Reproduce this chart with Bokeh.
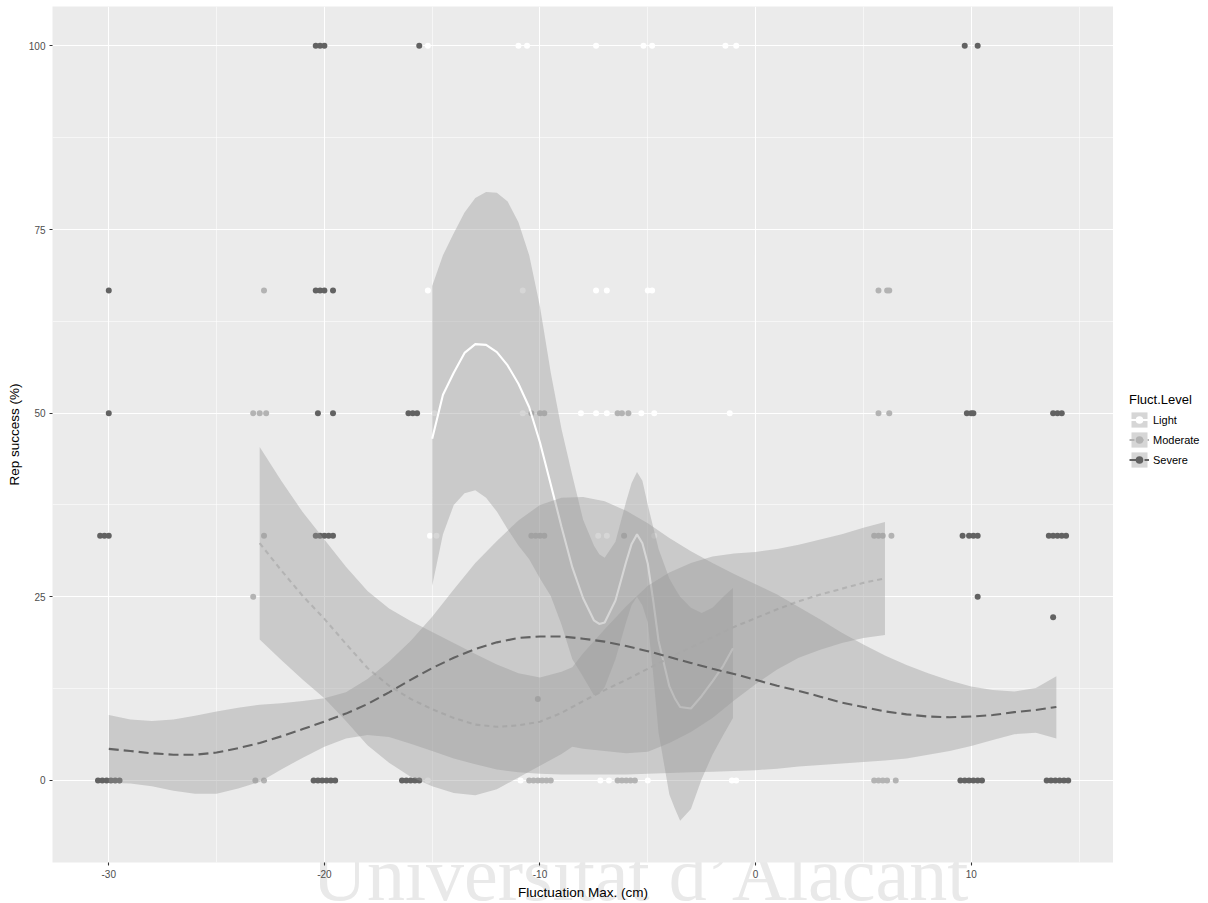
from bokeh.plotting import figure
from bokeh.layouts import row, column
from bokeh.models import Range1d, FixedTicker, Legend, LegendItem, Div
from bokeh.embed import file_html
from bokeh.resources import INLINE

# ---------------- observations (jittered along x) ----------------
light_x = [-15.2, -11.0, -10.6, -7.4, -5.2, -4.8, -1.4, -0.9,
           -15.2, -10.8, -7.4, -6.9, -5.0, -4.8,
           -14.9, -10.8, -8.1, -7.4, -6.9, -5.3, -4.7, -1.2,
           -15.1, -14.8, -7.3, -6.9, -4.7,
           -15.2, -10.9, -7.2, -6.8, -5.0, -1.1, -0.9]
light_y = [100, 100, 100, 100, 100, 100, 100, 100,
           66.7, 66.7, 66.7, 66.7, 66.7, 66.7,
           50, 50, 50, 50, 50, 50, 50, 50,
           33.3, 33.3, 33.3, 33.3, 33.3,
           0, 0, 0, 0, 0, 0, 0]

moderate_x = [-23.2, -22.8, -10.5, -10.3, -10.1, -9.9, -9.7, -9.5, -6.4, -6.2, -6.0, -5.8, -5.6,
              5.5, 5.7, 5.9, 6.1, 6.5,
              -23.3,
              -22.8, -10.4, -10.2, -10.0, -9.8, -6.1, 5.5, 5.7, 5.9, 6.3,
              -23.3, -23.0, -22.7, -10.4, -10.0, -9.8, -6.4, -6.2, -5.9, 5.7, 6.2,
              -22.8, 5.7, 6.1, 6.2,
              -10.1]
moderate_y = [0, 0, 0, 0, 0, 0, 0, 0, 0, 0, 0, 0, 0,
              0, 0, 0, 0, 0,
              25,
              33.3, 33.3, 33.3, 33.3, 33.3, 33.3, 33.3, 33.3, 33.3, 33.3,
              50, 50, 50, 50, 50, 50, 50, 50, 50, 50, 50,
              66.7, 66.7, 66.7, 66.7,
              11.1]

severe_x = [-30.5, -30.3, -30.1, -29.9, -29.7, -29.5, -20.5, -20.3, -20.1, -19.9, -19.7, -19.5,
            -16.4, -16.2, -16.0, -15.8, -15.6, 9.5, 9.7, 9.9, 10.1, 10.3, 10.5,
            13.5, 13.7, 13.9, 14.1, 14.3, 14.5,
            -30.4, -30.2, -30.0, -20.4, -20.2, -20.0, -19.8, -19.6, 9.6, 9.9, 10.1, 10.3,
            13.6, 13.8, 14.0, 14.2, 14.4,
            -30.0, -20.3, -19.6, -16.1, -15.9, -15.7, 9.8, 10.0, 10.1, 13.8, 14.0, 14.2,
            -30.0, -20.4, -20.2, -20.0, -19.6,
            -20.4, -20.2, -20.0, -15.6, 9.7, 10.3,
            10.3, 13.8]
severe_y = [0, 0, 0, 0, 0, 0, 0, 0, 0, 0, 0, 0,
            0, 0, 0, 0, 0, 0, 0, 0, 0, 0, 0,
            0, 0, 0, 0, 0, 0,
            33.3, 33.3, 33.3, 33.3, 33.3, 33.3, 33.3, 33.3, 33.3, 33.3, 33.3, 33.3,
            33.3, 33.3, 33.3, 33.3, 33.3,
            50, 50, 50, 50, 50, 50, 50, 50, 50, 50, 50, 50,
            66.7, 66.7, 66.7, 66.7, 66.7,
            100, 100, 100, 100, 100, 100,
            25, 22.2]

# ---------------- loess fits with confidence band ----------------
light_sx = [-15.0, -14.5, -14.0, -13.5, -13.0, -12.5, -12.0, -11.5, -11.0, -10.5,
            -10.0, -9.5, -9.0, -8.5, -8.0, -7.5, -7.25, -7.0, -6.5, -6.0,
            -5.75, -5.5, -5.25, -5.0, -4.75, -4.5, -4.0, -3.75, -3.5, -3.0,
            -2.5, -2.0, -1.5, -1.05]
light_fit = [46.5, 52.5, 55.5, 58.2, 59.4, 59.3, 58.3, 56.5, 54.0, 50.8,
             46.0, 40.3, 34.5, 29.0, 24.8, 21.8, 21.3, 21.5, 24.5, 29.8,
             32.2, 33.5, 32.3, 29.5, 24.5, 19.0, 12.8, 11.2, 10.0, 9.8,
             11.5, 13.5, 15.6, 18.0]
light_hi = [67.3, 71.5, 74.5, 77.3, 79.3, 80.1, 80.0, 78.8, 76.0, 71.5,
            64.5, 55.5, 47.8, 41.5, 35.5, 32.0, 30.8, 30.3, 32.5, 38.0,
            40.5, 42.0, 40.8, 37.5, 34.5, 31.5, 27.5, 26.2, 25.0, 23.5,
            22.8, 23.5, 25.0, 26.2]
light_lo = [26.5, 33.5, 37.5, 39.1, 39.5, 38.5, 36.6, 34.2, 32.0, 30.1,
            27.5, 25.1, 21.2, 16.5, 14.1, 11.6, 11.8, 12.7, 16.5, 21.6,
            23.9, 25.0, 23.8, 21.5, 14.5, 6.5, -1.9, -3.8, -5.5, -3.9,
            0.2, 3.5, 6.2, 8.5]

moderate_sx = [-23, -22, -21, -20, -19, -18, -17, -16, -15, -14,
               -13, -12, -11, -10, -9, -8.5, -8, -7, -6, -5,
               -4, -3, -2, -1, 0, 1, 2, 3, 4, 5, 6]
moderate_fit = [32.3, 28.6, 25.1, 22.0, 18.6, 15.3, 12.9, 11.1, 9.7, 8.5,
                7.6, 7.3, 7.5, 8.0, 9.2, 10.0, 10.8, 12.3, 13.7, 15.2,
                16.7, 18.1, 19.5, 20.9, 22.1, 23.3, 24.4, 25.3, 26.1, 26.9, 27.5]
moderate_hi = [45.4, 40.8, 36.5, 32.8, 29.1, 25.8, 23.4, 21.7, 20.2, 18.7,
               17.2, 15.8, 14.6, 14.0, 14.8, 15.4, 17.3, 20.6, 23.7, 26.5,
               28.3, 29.6, 30.5, 30.9, 31.1, 31.5, 32.1, 32.8, 33.5, 34.4, 35.2]
moderate_lo = [19.2, 16.4, 13.7, 11.2, 8.1, 4.8, 2.4, 0.5, -0.8, -1.7,
               -2.0, -1.2, 0.4, 2.0, 3.6, 4.6, 4.3, 4.0, 3.7, 3.9,
               5.1, 6.6, 8.5, 10.9, 13.1, 15.1, 16.7, 17.8, 18.7, 19.4, 19.8]

severe_sx = [-30, -29, -28, -27, -26, -25, -24, -23, -22, -21,
             -20, -19, -18, -17, -16, -15, -14, -13, -12, -11,
             -10, -9, -8, -7, -6, -5, -4, -3, -2, -1,
             0, 1, 2, 3, 4, 5, 6, 7, 8, 9,
             10, 11, 12, 13, 13.95]
severe_fit = [4.3, 4.0, 3.7, 3.5, 3.5, 3.8, 4.4, 5.1, 6.0, 7.0,
              8.0, 9.1, 10.4, 12.0, 13.7, 15.3, 16.7, 17.9, 18.8, 19.4,
              19.6, 19.6, 19.3, 18.9, 18.3, 17.6, 16.8, 16.0, 15.2, 14.5,
              13.7, 12.9, 12.2, 11.4, 10.6, 10.0, 9.4, 9.0, 8.7, 8.6,
              8.7, 8.9, 9.3, 9.6, 10.0]
severe_hi = [8.9, 8.3, 8.1, 8.3, 8.8, 9.4, 9.9, 10.3, 10.5, 10.8,
             11.2, 12.0, 13.8, 16.2, 19.0, 22.3, 26.0, 29.6, 32.6, 35.4,
             37.5, 38.5, 38.6, 38.0, 36.7, 35.0, 33.0, 31.2, 29.6, 28.1,
             26.7, 25.3, 23.6, 21.9, 20.1, 18.5, 17.0, 15.7, 14.6, 13.6,
             12.8, 12.3, 12.1, 12.6, 14.2]
severe_lo = [-0.3, -0.4, -0.8, -1.4, -1.8, -1.8, -1.1, -0.2, 1.5, 3.1,
             4.6, 5.7, 6.2, 5.9, 5.0, 4.0, 3.0, 2.2, 1.5, 1.1,
             0.9, 0.8, 0.8, 0.8, 0.8, 0.9, 1.0, 1.1, 1.2, 1.3,
             1.4, 1.6, 1.9, 2.1, 2.3, 2.5, 2.7, 3.0, 3.5, 4.0,
             4.7, 5.5, 6.3, 6.5, 5.7]

levels = ["Light", "Moderate", "Severe"]
x_ticks = [-30, -20, -10, 0, 10]
x_tick_labels = ["-30", "-20", "-10", "0", "10"]
y_ticks = [0, 25, 50, 75, 100]
y_tick_labels = ["0", "25", "50", "75", "100"]

# ---------------- main panel ----------------
p = figure(width=1113, height=903, output_backend="svg", toolbar_location=None,
           x_range=Range1d(-32.61, 16.6), y_range=Range1d(-11.17, 105.36),
           min_border_left=52, min_border_right=0, min_border_top=6,
           min_border_bottom=41)
p.background_fill_color = "#ebebeb"
p.border_fill_alpha = 0          # let the page (and watermark) show around the panel
p.outline_line_color = None

p.xaxis.ticker = FixedTicker(ticks=x_ticks, minor_ticks=[-25, -15, -5, 5, 15])
p.yaxis.ticker = FixedTicker(ticks=y_ticks, minor_ticks=[12.5, 37.5, 62.5, 87.5])
p.xaxis.major_label_overrides = dict(zip(x_ticks, x_tick_labels))
p.yaxis.major_label_overrides = dict(zip(y_ticks, y_tick_labels))

for g in (p.xgrid, p.ygrid):
    g.grid_line_color = "white"
    g.grid_line_width = 1.1
    g.minor_grid_line_color = "white"
    g.minor_grid_line_width = 0.55

for ax in (p.xaxis, p.yaxis):
    ax.axis_line_color = None
    ax.major_tick_line_color = "#333333"
    ax.major_tick_line_width = 1.1
    ax.major_tick_in = 0
    ax.major_tick_out = 3
    ax.minor_tick_line_color = None
    ax.major_label_text_color = "#4d4d4d"
    ax.major_label_text_font = "Liberation Sans"
    ax.major_label_text_font_size = "10px"
    ax.major_label_standoff = 3
    ax.axis_label_text_font = "Liberation Sans"
    ax.axis_label_text_font_size = "13.5px"
    ax.axis_label_text_font_style = "normal"
    ax.axis_label_text_color = "black"
    ax.axis_label_standoff = 4

p.xaxis.axis_label = "Fluctuation Max. (cm)"
p.yaxis.axis_label = "Rep success (%)"

point_colors = {"Light": "#ffffff", "Moderate": "#b3b3b3", "Severe": "#626262"}
line_dashes = {"Light": "solid", "Moderate": "5 4", "Severe": "10 5"}

pts = {"Light": (light_x, light_y), "Moderate": (moderate_x, moderate_y),
       "Severe": (severe_x, severe_y)}
fits = {"Light": (light_sx, light_fit, light_lo, light_hi),
        "Moderate": (moderate_sx, moderate_fit, moderate_lo, moderate_hi),
        "Severe": (severe_sx, severe_fit, severe_lo, severe_hi)}

for lvl in levels:
    xs, ys = pts[lvl]
    p.scatter(xs, ys, size=6, fill_color=point_colors[lvl], line_color=None)

for lvl in levels:
    sx, fit, lo, hi = fits[lvl]
    p.varea(x=sx, y1=lo, y2=hi, fill_color="#999999", fill_alpha=0.4)
    p.line(sx, fit, line_color=point_colors[lvl], line_width=2.1,
           line_dash=line_dashes[lvl])

# ---------------- legend column ----------------
lg = figure(width=95, height=903, output_backend="svg", toolbar_location=None,
            x_range=Range1d(0, 1), y_range=Range1d(0, 1), min_border=0,
            x_axis_location=None, y_axis_location=None)
lg.grid.visible = False
lg.outline_line_color = None
lg.background_fill_color = "white"
lg.border_fill_color = "white"

# key glyphs: one sample each, kept outside the visible range
items = []
for lvl in levels:
    band = lg.varea(x=[5, 6], y1=[5, 5], y2=[6, 6], fill_color="#999999", fill_alpha=0.4)
    ln = lg.line([5, 6], [5, 5], line_color=point_colors[lvl], line_width=2.1,
                 line_dash=line_dashes[lvl])
    pt = lg.scatter([5], [5], size=6, fill_color=point_colors[lvl], line_color=None)
    items.append(LegendItem(label=lvl, renderers=[band, ln, pt]))

legend = Legend(items=items, title="Fluct.Level", location=(16, 393))
legend.title_text_font = "Liberation Sans"
legend.title_text_font_size = "13px"
legend.title_text_font_style = "normal"
legend.title_text_color = "black"
legend.title_standoff = 3
legend.label_text_font = "Liberation Sans"
legend.label_text_font_size = "11px"
legend.label_text_color = "black"
legend.glyph_width = 20
legend.glyph_height = 19
legend.label_height = 19
legend.label_standoff = 4
legend.spacing = 1
legend.padding = 0
legend.margin = 0
legend.background_fill_alpha = 0
legend.border_line_color = None
lg.add_layout(legend)

# faint institutional watermark sitting behind the chart's bottom margin
watermark = Div(text="Universitat d\u2019Alacant", margin=0,
                styles={"position": "absolute", "left": "312px", "top": "836px",
                        "z-index": "-1", "font-family": "Liberation Serif",
                        "font-size": "76px", "line-height": "1",
                        "color": "#e9e9e9", "white-space": "nowrap",
                        "pointer-events": "none"})

open("out.html", "w").write(file_html(column(watermark, row(p, lg), spacing=0), INLINE))
